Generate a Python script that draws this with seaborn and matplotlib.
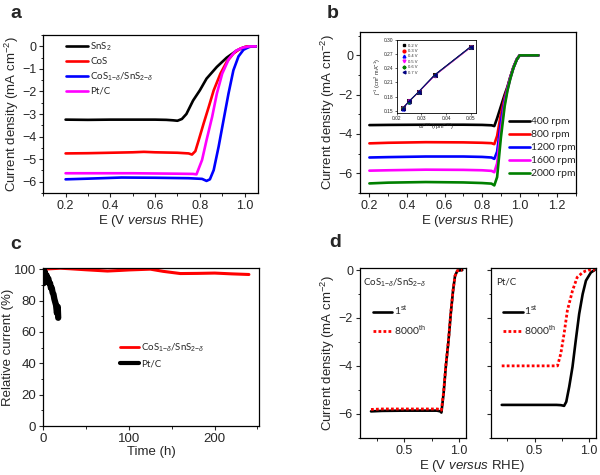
import numpy as np
import pandas as pd
import matplotlib
matplotlib.use("Agg")
import matplotlib.pyplot as plt
import seaborn as sns
from matplotlib.lines import Line2D
from matplotlib.ticker import MultipleLocator

# --------------------------------------------------
# data
# --------------------------------------------------

# a: LSV curves of the four catalysts
E_sns2 = [0.2, 0.3, 0.4, 0.5, 0.6, 0.65, 0.68, 0.70, 0.72, 0.74, 0.77, 0.80, 0.83, 0.876, 0.92, 0.965, 1.0, 1.05]
j_sns2 = [-3.25, -3.26, -3.25, -3.25, -3.25, -3.26, -3.28, -3.3, -3.22, -3.0, -2.4, -1.95, -1.43, -0.91, -0.5, -0.18, -0.03, 0]
E_cos = [0.2, 0.3, 0.4, 0.5, 0.55, 0.6, 0.7, 0.75, 0.765, 0.78, 0.795, 0.817, 0.84, 0.862, 0.892, 0.92, 0.95, 0.98, 1.01, 1.05]
j_cos = [-4.75, -4.74, -4.72, -4.7, -4.68, -4.7, -4.72, -4.75, -4.8, -4.65, -4.16, -3.42, -2.68, -1.95, -1.21, -0.69, -0.32, -0.1, 0, 0]
E_hyb = [0.2, 0.3, 0.45, 0.6, 0.75, 0.81, 0.83, 0.845, 0.862, 0.884, 0.906, 0.928, 0.95, 0.973, 0.995, 1.025, 1.05]
j_hyb = [-5.9, -5.87, -5.82, -5.83, -5.85, -5.88, -5.97, -5.9, -5.49, -4.45, -3.27, -2.1, -1.06, -0.44, -0.15, 0, 0]
E_ptc = [0.2, 0.3, 0.4, 0.5, 0.6, 0.7, 0.77, 0.785, 0.81, 0.83, 0.855, 0.876, 0.9, 0.93, 0.96, 0.99, 1.02, 1.05]
j_ptc = [-5.63, -5.63, -5.63, -5.63, -5.64, -5.65, -5.66, -5.68, -5.04, -4.16, -3.13, -2.1, -1.21, -0.55, -0.2, -0.06, 0, 0]

# b: rotating-disk curves
E_rpm = [0.2, 0.3, 0.5, 0.7, 0.8, 0.85, 0.865, 0.88, 0.9, 0.92, 0.935, 0.95, 0.967, 0.985, 1.0, 1.1]
j_400 = [-3.55, -3.54, -3.53, -3.53, -3.54, -3.56, -3.6, -3.2, -2.6, -2.0, -1.6, -1.1, -0.6, -0.2, 0, 0]
j_800 = [-4.48, -4.45, -4.42, -4.43, -4.45, -4.47, -4.52, -4.1, -3.0, -2.15, -1.65, -1.12, -0.6, -0.2, 0, 0]
j_1200 = [-5.2, -5.18, -5.15, -5.15, -5.17, -5.2, -5.27, -4.9, -3.4, -2.3, -1.7, -1.15, -0.62, -0.2, 0, 0]
j_1600 = [-5.87, -5.85, -5.82, -5.83, -5.85, -5.88, -5.95, -5.5, -3.8, -2.45, -1.75, -1.17, -0.63, -0.2, 0, 0]
j_2000 = [-6.52, -6.48, -6.45, -6.47, -6.5, -6.53, -6.62, -6.2, -4.2, -2.6, -1.8, -1.2, -0.64, -0.21, 0, 0]
rpm_labels = ["400 rpm", "800 rpm", "1200 rpm", "1600 rpm", "2000 rpm"]

# b inset: Koutecky-Levich points
w_inv = [0.0224, 0.025, 0.0289, 0.0354, 0.05]
kl_02 = [0.155, 0.170, 0.190, 0.226, 0.286]
kl_03 = [0.155, 0.169, 0.189, 0.225, 0.285]
kl_04 = [0.154, 0.169, 0.190, 0.225, 0.285]
kl_05 = [0.155, 0.170, 0.189, 0.224, 0.284]
kl_06 = [0.155, 0.169, 0.190, 0.225, 0.285]
kl_07 = [0.154, 0.170, 0.190, 0.226, 0.286]
kl_labels = ["0.2 V", "0.3 V", "0.4 V", "0.5 V", "0.6 V", "0.7 V"]

# c: stability
t_hyb = [0, 10, 20, 30, 50, 75, 90, 100, 125, 140, 160, 180, 200, 220, 240]
r_hyb = [100, 100.3, 100.6, 100.3, 99.6, 98.8, 99.2, 99.5, 100, 98.6, 97.2, 97.3, 97.5, 97.0, 96.6]
t_ptc = [0, 0.5, 1, 1.5, 2, 3, 4, 5, 6, 7, 8, 9, 10, 11, 12, 13, 14, 15, 16, 17, 17.5]
r_ptc = [100, 91, 99, 93, 98, 95, 96, 93, 94, 91, 91, 88, 88, 85, 84, 81, 79, 77, 72, 76, 69]

# d: cycling
E_d_hyb = [0.2, 0.3, 0.5, 0.7, 0.8, 0.83, 0.84, 0.86, 0.88, 0.905, 0.925, 0.946, 0.964, 0.985, 1.03]
j_d_hyb_1 = [-5.9, -5.88, -5.87, -5.87, -5.87, -5.9, -5.95, -5.15, -4.04, -2.93, -1.83, -0.86, -0.24, -0.03, 0]
j_d_hyb_8000 = [-5.82, -5.8, -5.8, -5.8, -5.8, -5.82, -5.85, -5.1, -4.0, -2.9, -1.8, -0.84, -0.24, -0.03, 0]
E_d_pt_1 = [0.2, 0.4, 0.6, 0.7, 0.74, 0.77, 0.79, 0.817, 0.847, 0.877, 0.908, 0.94, 0.97, 1.015, 1.05]
j_d_pt_1 = [-5.63, -5.63, -5.63, -5.63, -5.64, -5.67, -5.5, -4.87, -4.04, -2.93, -1.83, -1.0, -0.44, -0.1, 0]
E_d_pt_8000 = [0.2, 0.4, 0.6, 0.7, 0.71, 0.74, 0.77, 0.80, 0.847, 0.89, 0.94, 0.97, 0.99, 1.05]
j_d_pt_8000 = [-4.0, -4.0, -4.0, -4.0, -4.0, -3.49, -2.66, -1.69, -0.86, -0.30, -0.1, -0.03, 0, 0]

# --------------------------------------------------
# style
# --------------------------------------------------
sns.set_theme(style="ticks")
plt.rcParams.update({
    "font.family": ["Liberation Sans", "DejaVu Sans"],
    "mathtext.fontset": "custom",
    "mathtext.rm": "Liberation Sans",
    "mathtext.it": "Liberation Sans:italic",
    "mathtext.bf": "Liberation Sans:bold",
    "axes.edgecolor": "black",
    "axes.linewidth": 0.9,
    "xtick.direction": "out",
    "ytick.direction": "out",
    "xtick.major.size": 3,
    "ytick.major.size": 3,
    "xtick.minor.size": 1.8,
    "ytick.minor.size": 1.8,
    "xtick.major.width": 0.8,
    "ytick.major.width": 0.8,
    "xtick.minor.width": 0.7,
    "ytick.minor.width": 0.7,
    "xtick.labelsize": 9,
    "ytick.labelsize": 9,
    "axes.labelsize": 9.5,
    "xtick.major.pad": 2,
    "ytick.major.pad": 2,
})
LEG = ["Lato", "DejaVu Sans"]

fig = plt.figure(figsize=(6, 4.75), dpi=100)

ax_a = fig.add_axes([0.072, 0.594, 0.358, 0.332])
ax_b = fig.add_axes([0.600, 0.594, 0.360, 0.339])
ax_c = fig.add_axes([0.072, 0.103, 0.360, 0.333])
ax_d1 = fig.add_axes([0.600, 0.0785, 0.176, 0.358])
ax_d2 = fig.add_axes([0.818, 0.0785, 0.175, 0.358])
ax_in = fig.add_axes([0.661, 0.762, 0.132, 0.154])


def line(ax, x, y, color, lw=1.9, **kw):
    sns.lineplot(x=x, y=y, ax=ax, color=color, lw=lw, sort=False,
                 estimator=None, legend=False, **kw)


def legend(ax, handles, labels, anchor, fs, hl=2.2, ls=0.4, pad=0.3):
    lg = ax.legend(handles, labels, loc="upper left", bbox_to_anchor=anchor,
                   frameon=False, fontsize=fs, handlelength=hl,
                   handletextpad=pad, labelspacing=ls, borderpad=0,
                   borderaxespad=0, prop={"family": LEG, "size": fs})
    return lg


# --------------------------------------------------
# a
# --------------------------------------------------
a_series = [(E_sns2, j_sns2, "black"), (E_cos, j_cos, "#ff0000"),
            (E_hyb, j_hyb, "#0000ff"), (E_ptc, j_ptc, "#ff00ff")]
for x, y, c in a_series:
    line(ax_a, x, y, c)
ax_a.set_xlim(0.1, 1.06)
ax_a.set_ylim(-6.5, 0.5)
ax_a.xaxis.set_major_locator(MultipleLocator(0.2))
ax_a.xaxis.set_minor_locator(MultipleLocator(0.1))
ax_a.yaxis.set_major_locator(MultipleLocator(1))
ax_a.yaxis.set_minor_locator(MultipleLocator(0.5))
ax_a.set_xticks([0.2, 0.4, 0.6, 0.8, 1.0])
ax_a.set_xlabel(r"E (V $\mathit{versus}$ RHE)", labelpad=1)
ax_a.set_ylabel(r"Current density (mA cm$^{-2}$)", labelpad=1)
h = [Line2D([], [], color=c, lw=1.9) for _, _, c in a_series]
legend(ax_a, h, [r"SnS$_2$", "CoS", r"CoS$_{1\mathrm{-}\delta}$/SnS$_{2\mathrm{-}\delta}$", "Pt/C"],
       (0.107, 0.965), 7)

# --------------------------------------------------
# b
# --------------------------------------------------
b_cols = ["black", "#ff0000", "#0000ff", "#ff00ff", "#008000"]
for y, c in zip([j_400, j_800, j_1200, j_1600, j_2000], b_cols):
    line(ax_b, E_rpm, y, c)
ax_b.set_xlim(0.15, 1.3)
ax_b.set_ylim(-7, 1.2)
ax_b.set_xticks([0.2, 0.4, 0.6, 0.8, 1.0, 1.2])
ax_b.xaxis.set_minor_locator(MultipleLocator(0.1))
ax_b.yaxis.set_major_locator(MultipleLocator(2))
ax_b.yaxis.set_minor_locator(MultipleLocator(1))
ax_b.set_xlabel(r"E ($\mathit{versus}$ RHE)", labelpad=1)
ax_b.set_ylabel(r"Current density (mA cm$^{-2}$)", labelpad=1)
h = [Line2D([], [], color=c, lw=1.9) for c in b_cols]
legend(ax_b, h, rpm_labels, (0.69, 0.47), 7.5, hl=2.0, ls=0.35, pad=0.1)

# inset
kl_sets = [kl_02, kl_03, kl_04, kl_05, kl_06, kl_07]
kl_cols = ["black", "#ff0000", "#0000ff", "#ff00ff", "#008000", "#000080"]
kl_marks = ["s", "o", "^", "v", "P", "<"]
for y, c, m in zip(kl_sets, kl_cols, kl_marks):
    sns.lineplot(x=w_inv, y=y, ax=ax_in, color=c, lw=0.6, marker=m, ms=2.2,
                 mec=c, sort=False, estimator=None, legend=False)
ax_in.set_xlim(0.02, 0.052)
ax_in.set_ylim(0.145, 0.30)
ax_in.set_xticks([0.02, 0.03, 0.04, 0.05])
ax_in.set_yticks([0.15, 0.18, 0.21, 0.24, 0.27, 0.30])
ax_in.tick_params(labelsize=3.5, length=1.2, width=0.5, pad=1)
for s in ax_in.spines.values():
    s.set_linewidth(0.6)
ax_in.set_xlabel("ω$^{-1/2}$ (rpm$^{-1/2}$)", fontsize=4, labelpad=0.5)
ax_in.set_ylabel("j$^{-1}$ (cm$^{2}$ mA$^{-1}$)", fontsize=4, labelpad=0.5)
h = [Line2D([], [], color=c, lw=0, marker=m, ms=2) for c, m in zip(kl_cols, kl_marks)]
ax_in.legend(h, kl_labels, loc="upper left", bbox_to_anchor=(0.06, 0.95),
             frameon=False, fontsize=3, handlelength=1.2, handletextpad=0.3,
             labelspacing=0.35, borderpad=0, borderaxespad=0)

# --------------------------------------------------
# c
# --------------------------------------------------
line(ax_c, t_hyb, r_hyb, "#ff0000", lw=2.2)
line(ax_c, t_ptc, r_ptc, "black", lw=4.5)
ax_c.set_xlim(0, 252)
ax_c.set_ylim(0, 100.8)
ax_c.xaxis.set_major_locator(MultipleLocator(100))
ax_c.xaxis.set_minor_locator(MultipleLocator(50))
ax_c.yaxis.set_major_locator(MultipleLocator(20))
ax_c.yaxis.set_minor_locator(MultipleLocator(10))
ax_c.tick_params(labelsize=9.5)
ax_c.set_xlabel("Time (h)", fontsize=9.5, labelpad=1)
ax_c.set_ylabel("Relative current (%)", fontsize=9.5, labelpad=0)
h = [Line2D([], [], color="#ff0000", lw=2), Line2D([], [], color="black", lw=3)]
legend(ax_c, h, [r"CoS$_{1\mathrm{-}\delta}$/SnS$_{2\mathrm{-}\delta}$", "Pt/C"],
       (0.355, 0.535), 7, hl=2.0, ls=0.5, pad=0.2)

# --------------------------------------------------
# d
# --------------------------------------------------
dot = (0, (1, 0.8))
line(ax_d1, E_d_hyb, j_d_hyb_1, "black")
line(ax_d1, E_d_hyb, j_d_hyb_8000, "#ff0000", lw=2.0, linestyle=dot)
line(ax_d2, E_d_pt_1, j_d_pt_1, "black")
line(ax_d2, E_d_pt_8000, j_d_pt_8000, "#ff0000", lw=2.0, linestyle=dot)
for ax in (ax_d1, ax_d2):
    ax.set_xlim(0.1, 1.06)
    ax.set_ylim(-7, 0.1)
    ax.set_xticks([0.5, 1.0])
    ax.xaxis.set_minor_locator(MultipleLocator(0.25))
    ax.yaxis.set_major_locator(MultipleLocator(2))
    ax.yaxis.set_minor_locator(MultipleLocator(1))
    h = [Line2D([], [], color="black", lw=1.9),
         Line2D([], [], color="#ff0000", lw=2.0, linestyle=dot)]
    legend(ax, h, [r"1$^{\mathrm{st}}$", r"8000$^{\mathrm{th}}$"],
           (0.12, 0.79), 7.5, hl=1.9, ls=0.55, pad=0.1)
ax_d2.set_yticklabels([])
ax_d1.set_ylabel(r"Current density (mA cm$^{-2}$)", labelpad=1)
ax_d1.text(0.03, 0.915, r"CoS$_{1\mathrm{-}\delta}$/SnS$_{2\mathrm{-}\delta}$",
           transform=ax_d1.transAxes, fontsize=7, family=LEG, va="center")
ax_d2.text(0.05, 0.915, "Pt/C", transform=ax_d2.transAxes, fontsize=7,
           family=LEG, va="center")
fig.text(0.787, 0.012, r"E (V $\mathit{versus}$ RHE)", ha="center", fontsize=9.5)

# panel letters
for s, x, y in [("a", 0.017, 0.962), ("b", 0.545, 0.962),
                ("c", 0.017, 0.476), ("d", 0.548, 0.48)]:
    fig.text(x, y, s, fontsize=14, fontweight="bold", va="baseline")

plt.savefig("out.png", dpi=100)
plt.close()
